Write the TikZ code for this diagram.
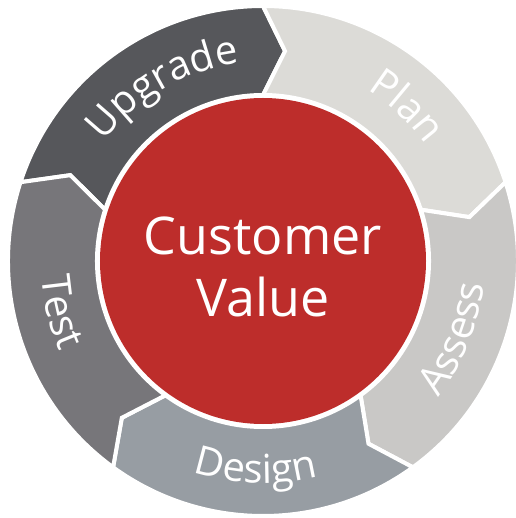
\documentclass[tikz,border=0pt]{standalone}
\usepackage{fontspec}
\setmainfont{Open Sans}
\usetikzlibrary{decorations.text}

\definecolor{cvred}{HTML}{BD2D2B}
\definecolor{upgradegray}{HTML}{56575B}
\definecolor{plangray}{HTML}{DCDBD7}
\definecolor{assessgray}{HTML}{C9C8C6}
\definecolor{designgray}{HTML}{979DA3}
\definecolor{testgray}{HTML}{77767A}

\newcommand{\segfont}{\fontsize{40}{42}\selectfont}
\newcommand{\Ro}{255pt}
\newcommand{\Rm}{211pt}
\newcommand{\Ri}{166pt}

\begin{document}
\begin{tikzpicture}[
    segment/.style={draw=white, line width=4pt},
    seglabel/.style={decorate, decoration={text along path, text align=center,
      text color=white, text={|\segfont|#1}}}]
  \useasboundingbox (-263pt,-257pt) rectangle (252pt,261pt);

  % Ring
  \foreach \a/\col in {162/upgradegray, 90/plangray, 18/assessgray,
                       -54/designgray, -126/testgray} {
    \filldraw[segment, fill=\col] (\a:\Ro)
      arc[start angle=\a, end angle=\a-72, radius=\Ro]
      -- (\a-78:\Rm) -- (\a-72:\Ri)
      arc[start angle=\a-72, end angle=\a, radius=\Ri]
      -- (\a-6:\Rm) -- cycle;
  }

  % Beschriftung
  \path[seglabel={Upgrade}] (160:199pt) arc[start angle=160, end angle=80, radius=199pt];
  \path[seglabel={Plan}] (87:200pt) arc[start angle=87, end angle=7, radius=200pt];
  \path[seglabel={Assess}] (-62:222pt) arc[start angle=-62, end angle=18, radius=222pt];
  \path[seglabel={Design}] (-132:222pt) arc[start angle=-132, end angle=-52, radius=222pt];
  \path[seglabel={Test}] (154:222pt) arc[start angle=154, end angle=234, radius=222pt];

  % Mitte
  \node[circle, fill=cvred, minimum size=326pt, inner sep=0pt] (core) at (0,0) {};
  \node[text=white, align=center, font=\fontsize{52}{62}\selectfont] (value)
    at ([yshift=-6pt]core.center) {Customer\\Value};
\end{tikzpicture}
\end{document}
